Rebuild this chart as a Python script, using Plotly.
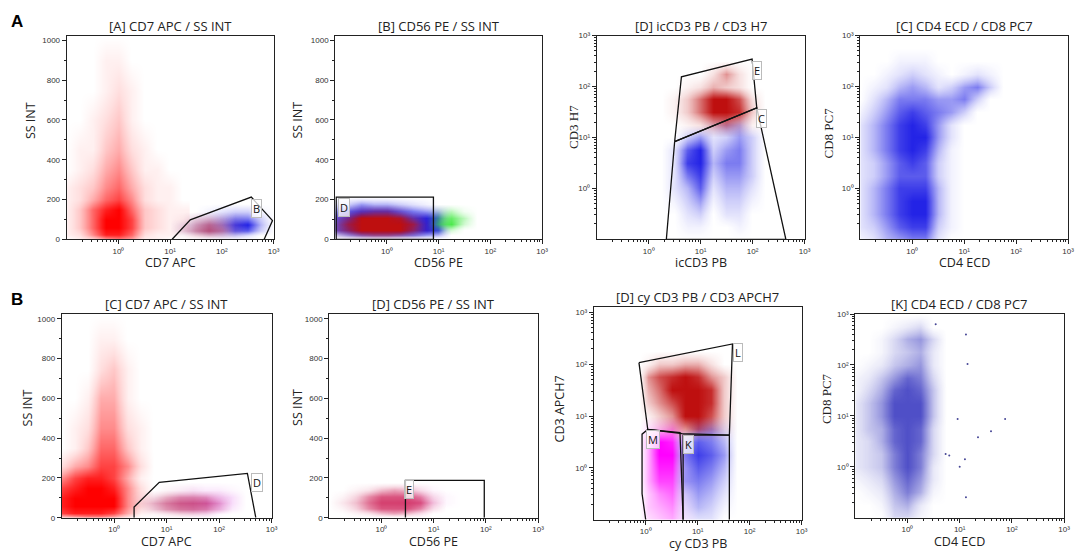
import plotly.graph_objects as go

W, H = 1084, 559

# ---------------- density grids (0 = empty, 9 = densest) ----------------
# log axes: grid columns / rows are log10 values; SS INT rows are channel values
ss_y = [1024, 900, 750, 600, 450, 350, 260, 200, 150, 100, 60, 25, 0]
low_y = [220, 180, 140, 105, 75, 45, 20, 0]

# [A] CD7 APC / SS INT
a1_x = [-1.0, -0.75, -0.5, -0.25, 0, 0.25, 0.5, 0.75, 1.0, 1.25]
a1_red = ["0000000000", "0001100000", "0001210000", "0012310000", "0113421000", "0124531100",
          "1235642110", "1246752110", "1368963211", "1369973211", "1369973211", "1258862110",
          "0124541100"]
a1g_x = [1.0, 1.25, 1.5, 1.75, 2.0, 2.25, 2.5, 2.75, 3.0]
a1g_red = ["000000000", "000000000", "000000000", "013431000", "025752000", "036862000",
           "013431000", "000000000"]
a1g_blue = ["000000000", "000000000", "000123310", "001246630", "012358940", "012347730",
            "000123200", "000000000"]

# [B] CD56 PE / SS INT
a2_x = [-1.0, -0.75, -0.5, -0.25, 0, 0.25, 0.5, 0.75, 1.0, 1.25, 1.5, 1.75]
a2_y = [210, 175, 140, 105, 75, 45, 20, 0]
a2_blue = ["000000000000", "235443210000", "578887654000", "789888898000", "789999898000",
           "789999898000", "356666654000", "000000000000"]
a2_red = ["000000000000", "000000000000", "013442000000", "259998410000", "379999720000",
          "369999620000", "124554200000", "000000000000"]
a2_green = ["000000000000", "000000000000", "000000002410", "000000005740", "000000006830",
            "000000002300", "000000000000", "000000000000"]

# [D] icCD3 PB / CD3 H7
a3_x = [0.25, 0.5, 0.75, 1.0, 1.25, 1.5, 1.75, 2.0, 2.25]
a3_y = [2.75, 2.5, 2.25, 2.0, 1.75, 1.5, 1.25, 1.0, 0.75, 0.5, 0.25, 0.0, -0.25, -0.5, -0.75, -1.0]
a3_red = ["000000000", "000000000", "000025200", "001243200", "013699720", "013699830",
          "001245310", "000000000", "000000000", "000000000", "000000000", "000000000",
          "000000000", "000000000", "000000000", "000000000"]
a3_blue = ["000000000", "000000000", "000000000", "000000000", "000000000", "000000000",
           "000024400", "003523530", "027935630", "028946630", "026835530", "024724420",
           "013513310", "002302200", "001100100", "000000000"]

# [C] CD4 ECD / CD8 PC7
a4_x = [-1.0, -0.75, -0.5, -0.25, 0, 0.25, 0.5, 0.75, 1.0, 1.25, 1.5, 1.75]
a4_y = [2.75, 2.5, 2.25, 2.0, 1.75, 1.5, 1.25, 1.0, 0.75, 0.5, 0.25, 0.0, -0.25, -0.5, -0.75, -1.0]
a4_blue = ["000000000000", "000111000000", "001232101210", "012454235630", "024666556300",
           "135787653000", "246898520000", "246899520000", "246898410000", "235787310000",
           "235777310000", "246888410000", "246899410000", "246899410000", "235788310000",
           "124566200000"]

# [C] CD7 APC / SS INT (B row)
b1_x = [-1.0, -0.75, -0.5, -0.25, 0, 0.25, 0.5, 0.75, 1.0]
b1_red = ["000000000", "000110000", "000231000", "001441000", "012552100", "013663100",
          "245775200", "578874100", "789985200", "899995200", "899995200", "788874100",
          "234431000"]
b1g_x = [0.25, 0.5, 0.75, 1.0, 1.25, 1.5, 1.75, 2.0, 2.25, 2.5]
b1g_pink = ["0000000000", "0000000000", "0001110000", "0135665200", "0257887400", "0146776300",
            "0012332000", "0000000000"]
b1g_lilac = ["0000000000", "0000000000", "0000122210", "0000234430", "0000246530", "0000134420",
             "0000012100", "0000000000"]

# [D] CD56 PE / SS INT
b2_x = [-1.0, -0.75, -0.5, -0.25, 0, 0.25, 0.5, 0.75, 1.0, 1.25, 1.5]
b2_y = [210, 175, 140, 105, 75, 45, 20, 0]
b2_pink = ["00000000000", "00000000000", "00124542000", "01368886200", "02479998300",
           "01368886200", "00124542000", "00000000000"]
b2_lilac = ["00000000000", "00000000000", "00000011100", "00000123210", "00000134310",
            "00000122100", "00000001000", "00000000000"]

# [D] cy CD3 PB / CD3 APCH7
b3_x = [-0.12, 0.05, 0.25, 0.5, 0.75, 1.0, 1.25, 1.5, 1.75]
b3_y = [2.5, 2.25, 2.0, 1.75, 1.5, 1.25, 1.0, 0.75, 0.5, 0.25, 0.0, -0.25, -0.5, -0.75, -1.0]
b3_red = ["000000000", "000000000", "013344200", "057898530", "046999830", "035799830",
          "013599730", "002457520", "000000000", "000000000", "000000000", "000000000",
          "000000000", "000000000", "000000000"]
b3_magenta = ["000000000", "000000000", "000000000", "000000000", "000000000", "000000000",
              "000000000", "023400000", "049810000", "049910000", "048810000", "047710000",
              "035610000", "034510000", "023410000"]
b3_blue = ["000000000", "000000000", "000000000", "000000000", "000000000", "000000000",
           "000000000", "000003420", "000057640", "000068750", "000057640", "000056530",
           "000035420", "000024310", "000012200"]

# [K] CD4 ECD / CD8 PC7
b4_x = [-1.0, -0.75, -0.5, -0.25, 0, 0.25, 0.5, 0.75, 1.0]
b4_y = [3.0, 2.75, 2.5, 2.25, 2.0, 1.75, 1.5, 1.25, 1.0, 0.75, 0.5, 0.25, 0.0, -0.25, -0.5, -0.75, -1.0]
b4_blue = ["000000000", "000123000", "001356300", "001345200", "012456200", "124687300",
           "135898400", "246999400", "246999400", "245898300", "235898300", "234797300",
           "234797200", "123686200", "012575100", "001452000", "000331000"]
b4_dots_x = [1.87, 1.6, 1.35, 1.12, 1.15, 1.1, 1.0, 0.96, 1.12, 0.73, 0.8, 0.54]
b4_dots_y = [0.94, 0.7, 0.58, 2.6, 2.02, 0.15, 0.0, 0.94, -0.6, 0.25, 0.22, 2.8]

# ---------------- gates (log10 for log axes) ----------------
gate_a1_x = [1.04, 1.39, 2.57, 2.98, 2.82]
gate_a1_y = [0, 98, 212, 94, 0]
gate_a2_x = [-0.98, 0.9, 0.9, -0.98, -0.98]
gate_a2_y = [0, 0, 212, 212, 0]
gate_a3e_x = [0.50, 0.63, 1.99, 2.08, 0.50]
gate_a3e_y = [0.92, 2.19, 2.54, 1.58, 0.92]
gate_a3c_x = [0.50, 2.08, 2.64, 0.34, 0.50]
gate_a3c_y = [0.92, 1.58, -1.0, -1.0, 0.92]
gate_b1_x = [0.38, 0.38, 0.86, 2.54, 2.70]
gate_b1_y = [0, 54, 178, 223, 0]
gate_b2_x = [0.46, 0.46, 1.97, 1.97]
gate_b2_y = [0, 188, 188, 0]
gate_b3l_x = [-0.13, 1.67, 1.61, 0.70, 0.04, -0.13]
gate_b3l_y = [2.03, 2.39, 0.63, 0.66, 0.74, 2.03]
gate_b3m_x = [0.0, -0.07, -0.07, 0.04, 0.66, 0.72]
gate_b3m_y = [-1.0, -0.5, 0.65, 0.74, 0.68, -1.0]
gate_b3k_x = [0.72, 0.72, 1.61, 1.61]
gate_b3k_y = [-1.0, 0.63, 0.63, -1.0]

# ---------------- colours ----------------
RED = (255, 0, 0)
DARK_RED = (190, 15, 15)
BLUE = (35, 35, 230)
GREEN = (50, 230, 50)
WINE = (170, 25, 70)
PINK = (190, 40, 100)
LILAC = (222, 95, 230)
CRIMSON = (205, 30, 85)
LILAC2 = (235, 125, 235)
MAGENTA = (255, 0, 255)
NAVY = (35, 35, 185)

ALPHA = [0, 0.06, 0.13, 0.22, 0.33, 0.46, 0.6, 0.74, 0.88, 1.0]


def scale(rgb, peak=1.0):
    r, g, b = rgb
    return [[i / 9, f"rgba({r},{g},{b},{a * peak:.3f})"] for i, a in enumerate(ALPHA)]


def cloud(n, xs, ys, rows, rgb, logy, peak=1.0):
    z = [[int(c) for c in r] for r in rows[::-1]]
    y = ys[::-1]
    if logy:
        y = [10 ** v for v in y]
    return go.Heatmap(x=[10 ** v for v in xs], y=y, z=z, zmin=0, zmax=9, zsmooth="best",
                      colorscale=scale(rgb, peak), showscale=False, hoverinfo="skip",
                      xaxis=f"x{n}", yaxis=f"y{n}")


def gate(n, xs, ys, logy):
    y = [10 ** v for v in ys] if logy else ys
    return go.Scatter(x=[10 ** v for v in xs], y=y, mode="lines", hoverinfo="skip",
                      line=dict(color="#111", width=1.3), showlegend=False,
                      xaxis=f"x{n}", yaxis=f"y{n}")


fig = go.Figure()
fig.add_trace(cloud(1, a1_x, ss_y, a1_red, RED, False))
fig.add_trace(cloud(1, a1g_x, low_y, a1g_blue, BLUE, False))
fig.add_trace(cloud(1, a1g_x, low_y, a1g_red, WINE, False, 0.8))
fig.add_trace(gate(1, gate_a1_x, gate_a1_y, False))

fig.add_trace(cloud(2, a2_x, a2_y, a2_blue, BLUE, False))
fig.add_trace(cloud(2, a2_x, a2_y, a2_red, DARK_RED, False))
fig.add_trace(cloud(2, a2_x, a2_y, a2_green, GREEN, False))
fig.add_trace(gate(2, gate_a2_x, gate_a2_y, False))

fig.add_trace(cloud(3, a3_x, a3_y, a3_blue, BLUE, True))
fig.add_trace(cloud(3, a3_x, a3_y, a3_red, DARK_RED, True))
fig.add_trace(gate(3, gate_a3e_x, gate_a3e_y, True))
fig.add_trace(gate(3, gate_a3c_x, gate_a3c_y, True))

fig.add_trace(cloud(4, a4_x, a4_y, a4_blue, BLUE, True))

fig.add_trace(cloud(5, b1_x, ss_y, b1_red, RED, False))
fig.add_trace(cloud(5, b1g_x, low_y, b1g_lilac, LILAC, False))
fig.add_trace(cloud(5, b1g_x, low_y, b1g_pink, PINK, False, 0.85))
fig.add_trace(gate(5, gate_b1_x, gate_b1_y, False))

fig.add_trace(cloud(6, b2_x, b2_y, b2_lilac, LILAC2, False))
fig.add_trace(cloud(6, b2_x, b2_y, b2_pink, CRIMSON, False, 0.85))
fig.add_trace(gate(6, gate_b2_x, gate_b2_y, False))

fig.add_trace(cloud(7, b3_x, b3_y, b3_red, DARK_RED, True))
fig.add_trace(cloud(7, b3_x, b3_y, b3_magenta, MAGENTA, True))
fig.add_trace(cloud(7, b3_x, b3_y, b3_blue, BLUE, True))
fig.add_trace(gate(7, gate_b3l_x, gate_b3l_y, True))
fig.add_trace(gate(7, gate_b3m_x, gate_b3m_y, True))
fig.add_trace(gate(7, gate_b3k_x, gate_b3k_y, True))

fig.add_trace(cloud(8, b4_x, b4_y, b4_blue, NAVY, True, 0.8))
fig.add_trace(go.Scatter(x=[10 ** v for v in b4_dots_x], y=[10 ** v for v in b4_dots_y],
                         mode="markers", marker=dict(size=2, color="rgb(70,70,150)"),
                         hoverinfo="skip", xaxis="x8", yaxis="y8"))

# ---------------- axes ----------------
# box of each panel in pixels: left, right, top, bottom
boxes = [(59, 267, 24, 231), (329, 537, 24, 231), (592, 801, 24, 231), (857, 1066, 24, 231),
         (54, 265, 307, 514), (323, 533, 307, 514), (589, 798, 300, 516), (852, 1062, 307, 514)]
log_y = [False, False, True, True, False, False, True, True]
y_top = [3, 3, 3, 3, 3, 3, 3.1, 3]

tick_font = dict(family="Liberation Sans", size=8, color="#333")
decades = [1, 10, 100, 1000]
decade_txt = ["10\u2070", "10\u00b9", "10\u00b2", "10\u00b3"]
log_minor = [k * 10 ** d for d in (-1, 0, 1, 2) for k in range(2, 10)]
common = dict(showline=True, linecolor="#222", linewidth=1, mirror=True, showgrid=False,
              zeroline=False, ticks="outside", ticklen=4, tickwidth=1, tickcolor="#222",
              tickfont=tick_font, fixedrange=True)

layout_axes = {}
for i, (l, r, t, b) in enumerate(boxes):
    n = i + 1
    xa = dict(common, type="log", range=[-1, 3], domain=[l / W, r / W], anchor=f"y{n}",
              tickmode="array", tickvals=decades, ticktext=decade_txt,
              minor=dict(tickmode="array", tickvals=log_minor, ticks="outside", ticklen=2,
                         tickcolor="#222", showgrid=False))
    if log_y[i]:
        ya = dict(common, type="log", range=[-1, y_top[i]], tickmode="array", tickvals=decades,
                  ticktext=decade_txt,
                  minor=dict(tickmode="array", tickvals=log_minor, ticks="outside", ticklen=2,
                             tickcolor="#222", showgrid=False))
    else:
        ya = dict(common, type="linear", range=[0, 1024], tickmode="array",
                  tickvals=[0, 200, 400, 600, 800, 1000],
                  minor=dict(dtick=100, ticks="outside", ticklen=2, tickcolor="#222",
                             showgrid=False))
    ya.update(domain=[1 - b / H, 1 - t / H], anchor=f"x{n}")
    layout_axes["xaxis" if n == 1 else f"xaxis{n}"] = xa
    layout_axes["yaxis" if n == 1 else f"yaxis{n}"] = ya

# ---------------- text ----------------
titles = ["[A] CD7 APC / SS INT", "[B] CD56 PE / SS INT", "[D] icCD3 PB / CD3 H7",
          "[C] CD4 ECD / CD8 PC7", "[C] CD7 APC / SS INT", "[D] CD56 PE / SS INT",
          "[D] cy CD3 PB / CD3 APCH7", "[K] CD4 ECD / CD8 PC7"]
x_titles = ["CD7 APC", "CD56 PE", "icCD3 PB", "CD4 ECD", "CD7 APC", "CD56 PE", "cy CD3 PB",
            "CD4 ECD"]
y_titles = ["SS INT", "SS INT", "CD3 H7", "CD8 PC7", "SS INT", "SS INT", "CD3 APCH7", "CD8 PC7"]
y_title_serif = [False, False, True, True, False, False, False, True]
y_title_px = [(22, 110), (291, 110), (568, 117), (825, 123), (20, 402), (291, 402), (555, 403),
              (823, 393)]

sans = "Open Sans"
ann = []
for i, (l, r, t, b) in enumerate(boxes):
    ann.append(dict(text=titles[i], x=(l + r) / 2 / W, y=1 - (t - 10) / H, xref="paper",
                    yref="paper", showarrow=False, xanchor="center", yanchor="middle",
                    font=dict(family=sans, size=13, color="#222")))
    ann.append(dict(text=x_titles[i], x=(l + r) / 2 / W, y=1 - (b + 24) / H, xref="paper",
                    yref="paper", showarrow=False, xanchor="center", yanchor="middle",
                    font=dict(family=sans, size=12.5, color="#222")))
    yx, yy = y_title_px[i]
    ann.append(dict(text=y_titles[i], x=yx / W, y=1 - yy / H, xref="paper", yref="paper",
                    showarrow=False, textangle=-90, xanchor="center", yanchor="middle",
                    font=dict(family="Liberation Serif" if y_title_serif[i] else sans,
                              size=13 if y_title_serif[i] else 12.5, color="#222")))

# gate labels: panel, text, x, y (log10 on log axes)
gate_labels = [(1, "B", 2.67, 157), (2, "D", -0.82, 162), (3, "E", 2.08, 2.31), (3, "C", 2.18, 1.38),
               (5, "D", 2.72, 178), (6, "E", 0.52, 143), (7, "L", 1.77, 2.22), (7, "M", 0.15, 0.55),
               (7, "K", 0.82, 0.46)]
for n, txt, gx, gy in gate_labels:
    ann.append(dict(text=txt, x=gx, y=gy, xref=f"x{n}", yref=f"y{n}", showarrow=False,
                    font=dict(family=sans, size=11, color="#111"), bgcolor="rgba(255,255,255,0.75)",
                    bordercolor="#bbb", borderwidth=1, borderpad=1))

for txt, px, py in [("A", 9, 10), ("B", 9, 292)]:
    ann.append(dict(text=f"<b>{txt}</b>", x=px / W, y=1 - py / H, xref="paper", yref="paper",
                    showarrow=False, xanchor="center", yanchor="middle",
                    font=dict(family="Liberation Sans", size=17, color="#000")))

fig.update_layout(width=W, height=H, margin=dict(l=0, r=0, t=0, b=0), showlegend=False,
                  paper_bgcolor="white", plot_bgcolor="white", annotations=ann, **layout_axes)
fig.write_html("out.html")
